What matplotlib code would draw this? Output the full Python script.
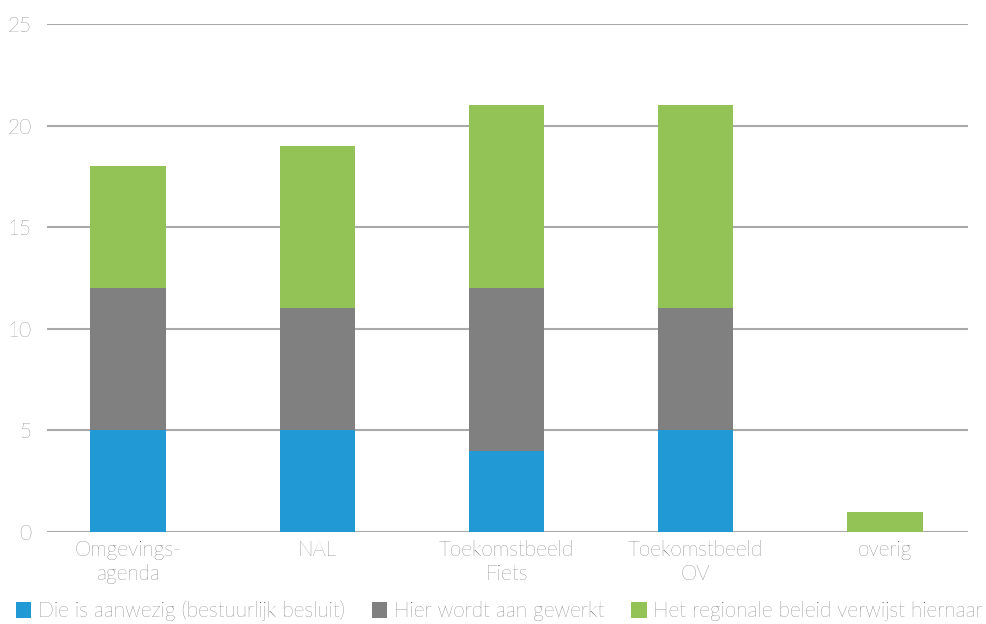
import numpy as np
import matplotlib.pyplot as plt
from matplotlib.patches import Patch

categories = ["Omgevings-\nagenda", "NAL", "Toekomstbeeld\nFiets", "Toekomstbeeld\nOV", "overig"]
aanwezig = [5, 5, 4, 5, 0]
gewerkt = [7, 6, 8, 6, 0]
verwijst = [6, 8, 9, 10, 1]
series_labels = ["Die is aanwezig (bestuurlijk besluit)", "Hier wordt aan gewerkt",
                 "Het regionale beleid verwijst hiernaar"]
colors = ["#2199d4", "#808080", "#93c256"]

plt.rcParams['font.family'] = ['Lato', 'DejaVu Sans']
plt.rcParams['font.weight'] = 'light'
text_color = "#3a3a3a"

fig = plt.figure(figsize=(9.87, 6.24), dpi=100)
ax = fig.add_axes([47 / 987, 1 - 532 / 624, 921 / 987, 508 / 624])

x = np.arange(len(categories))
w = 0.4
bottom = np.zeros(len(categories))
for vals, c in zip([aanwezig, gewerkt, verwijst], colors):
    ax.bar(x, vals, w, bottom=bottom, color=c, zorder=3)
    bottom += np.array(vals)

ax.set_xlim(-0.43, 4.44)
ax.set_ylim(0, 25)
ax.set_yticks(range(0, 26, 5))
ax.grid(axis='y', color='#a9a9a9', linewidth=1.5, zorder=0)
ax.set_xticks(x)
ax.set_xticklabels(categories, fontsize=15, color=text_color, linespacing=1.25)
ax.tick_params(axis='y', labelsize=15, labelcolor=text_color, length=0, pad=11)
ax.tick_params(axis='x', length=0, pad=6)
for s in ax.spines.values():
    s.set_visible(False)

handles = [Patch(facecolor=c) for c in colors]
fig.legend(handles, series_labels, loc='lower left', bbox_to_anchor=(-0.003, -0.026), ncol=3,
           frameon=False, fontsize=15, labelcolor=text_color, handlelength=0.75, handleheight=0.8,
           handletextpad=0.3, columnspacing=1.3)

fig.savefig("out.png", dpi=100)
